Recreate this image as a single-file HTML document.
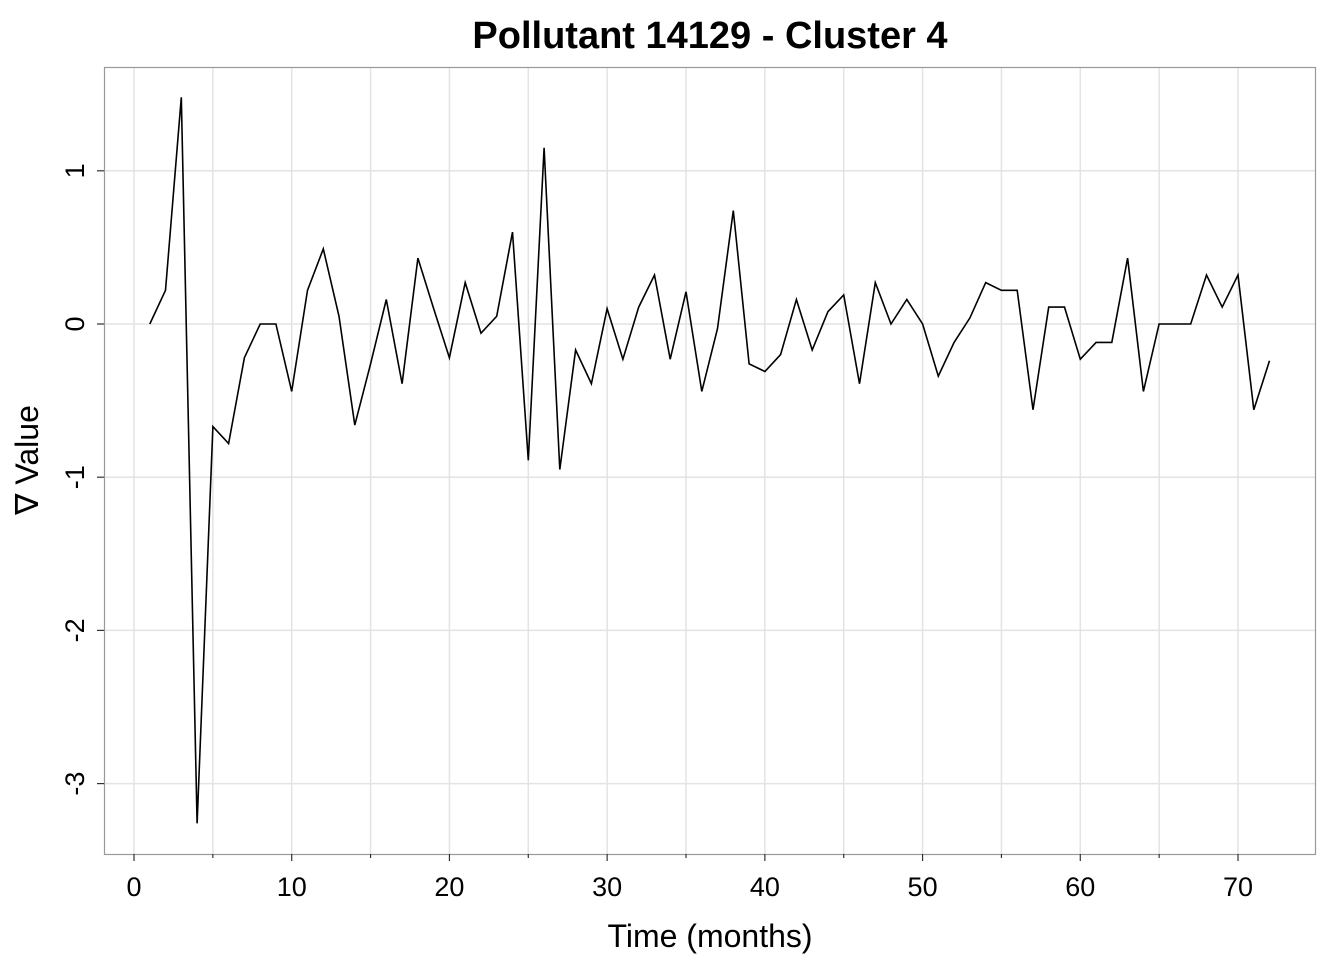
<!DOCTYPE html>
<html><head><meta charset="utf-8"><style>
body{margin:0;background:#fff;}
svg{display:block;font-family:"Liberation Sans",Arial,sans-serif;}
</style></head><body>
<svg id="chart" width="1344" height="960">
<text x="710" y="48" text-anchor="middle" font-size="38" font-weight="bold">Pollutant 14129 - Cluster 4</text>
<g id="grid"></g>
<rect x="104.5" y="67.5" width="1211" height="787" fill="none" stroke="#999" stroke-width="1.2"/>
<g id="axes"></g>
<path id="line" fill="none" stroke="#000" stroke-width="1.6"/>
<text x="710" y="947" text-anchor="middle" font-size="32">Time (months)</text>
<text transform="translate(38,460) rotate(-90)" text-anchor="middle" font-size="32">∇ Value</text>
</svg>
<script>
const months=[1,2,3,4,5,6,7,8,9,10,11,12,13,14,15,16,17,18,19,20,21,22,23,24,25,26,27,28,29,30,31,32,33,34,35,36,37,38,39,40,41,42,43,44,45,46,47,48,49,50,51,52,53,54,55,56,57,58,59,60,61,62,63,64,65,66,67,68,69,70,71,72];
const values=[0,0.22,1.48,-3.26,-0.67,-0.78,-0.22,0,0,-0.44,0.22,0.49,0.05,-0.66,-0.26,0.16,-0.39,0.43,0.1,-0.22,0.27,-0.06,0.05,0.6,-0.89,1.15,-0.95,-0.17,-0.39,0.1,-0.23,0.11,0.32,-0.23,0.21,-0.44,-0.03,0.74,-0.26,-0.31,-0.2,0.16,-0.17,0.08,0.19,-0.39,0.27,0,0.16,0,-0.34,-0.12,0.04,0.27,0.22,0.22,-0.56,0.11,0.11,-0.23,-0.12,-0.12,0.43,-0.44,0,0,0,0.32,0.11,0.32,-0.56,-0.24];
const xTicks=[0,10,20,30,40,50,60,70];
const xMinor=[5,15,25,35,45,55,65];
const yTicks=[-3,-2,-1,0,1];
const X0=104,X1=1315,Y0=67,Y1=854;
function sx(v){return 134+v*(1238-134)/70;}
function sy(v){return 324-v*153.2;}
const NS='http://www.w3.org/2000/svg';
const grid=document.getElementById('grid'),axes=document.getElementById('axes');
function mk(tag,attrs,parent){const e=document.createElementNS(NS,tag);for(const k in attrs)e.setAttribute(k,attrs[k]);parent.appendChild(e);return e;}
xTicks.concat(xMinor).forEach(t=>{
  const l=mk('line',{x1:sx(t),x2:sx(t),y1:Y0,y2:Y1,stroke:'#e3e3e3','stroke-width':1.5},grid);
  
  
});
yTicks.forEach(t=>{
  const l=mk('line',{x1:X0,x2:X1,y1:sy(t),y2:sy(t),stroke:'#e3e3e3','stroke-width':1.5},grid);
  
  
});
xTicks.forEach(t=>{
  const l=mk('line',{x1:sx(t),x2:sx(t),y1:Y1,y2:Y1+7,stroke:'#333','stroke-width':1.2},axes);
  
  
  const tx=mk('text',{x:sx(t),y:896,'text-anchor':'middle','font-size':27},axes);
  tx.textContent=t;
  
  
});
xMinor.forEach(t=>{
  const l=mk('line',{x1:sx(t),x2:sx(t),y1:Y1,y2:Y1+4,stroke:'#333','stroke-width':1.2},axes);
  
  
});
yTicks.forEach(t=>{
  const l=mk('line',{x1:X0-7,x2:X0,y1:sy(t),y2:sy(t),stroke:'#333','stroke-width':1.2},axes);
  
  
  const tx=mk('text',{transform:'translate(84,'+sy(t)+') rotate(-90)','text-anchor':'middle','font-size':27},axes);
  tx.textContent=t;
  
  
});
document.getElementById('line').setAttribute('d',months.map((m,i)=>(i?'L':'M')+sx(m).toFixed(1)+','+sy(values[i]).toFixed(1)).join(''));
</script>
</body></html>
